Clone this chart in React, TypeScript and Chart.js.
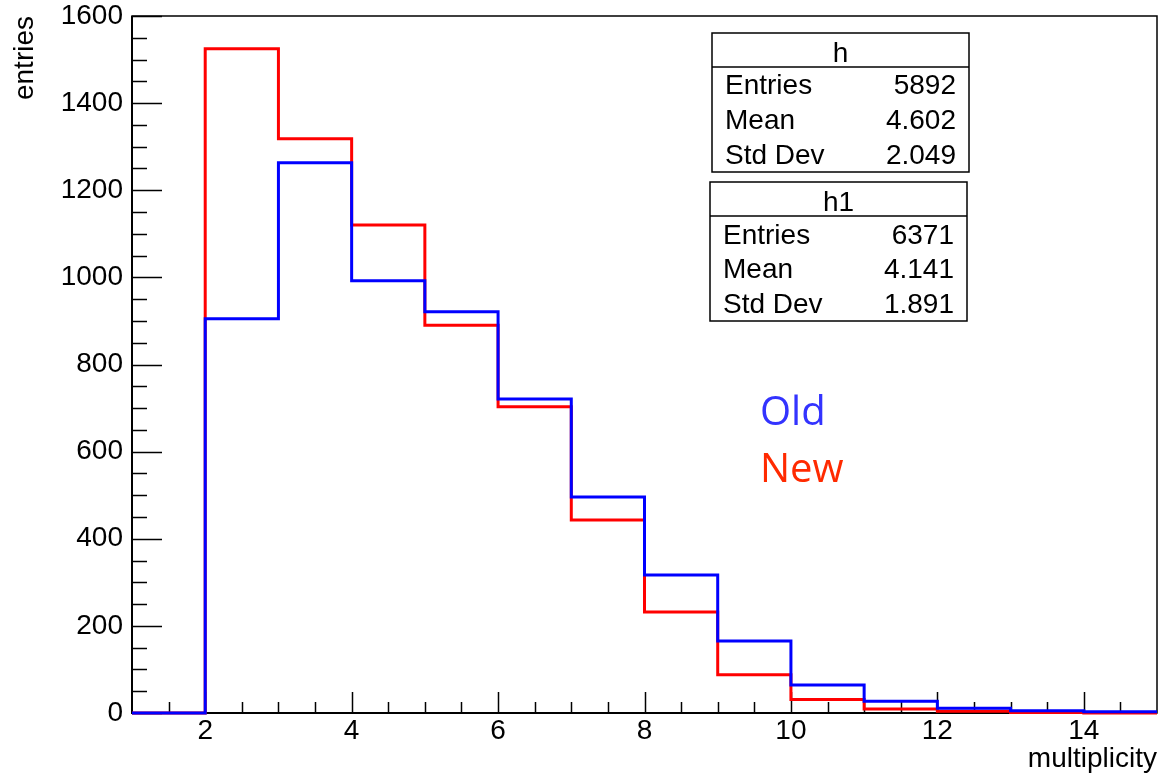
import React, { useEffect, useRef } from 'react';
import { Chart, registerables } from 'chart.js';

Chart.register(...registerables);

// ---- data ----
const binEdges = [1, 2, 3, 4, 5, 6, 7, 8, 9, 10, 11, 12, 13, 14, 15];
const oldCounts = [0, 905, 1263, 992, 921, 721, 496, 317, 165, 64, 27, 11, 5, 3];
const newCounts = [0, 1525, 1318, 1120, 890, 703, 443, 232, 88, 31, 9, 4, 1, 0];
const xTickValues = [2, 4, 6, 8, 10, 12, 14];
const yTickValues = [0, 200, 400, 600, 800, 1000, 1200, 1400, 1600];
const statLabels = ['Entries', 'Mean', 'Std Dev'];
const statsH = ['5892', '4.602', '2.049'];
const statsH1 = ['6371', '4.141', '1.891'];
const legendLabels = ['Old', 'New'];

const FONT = '"Liberation Sans", Arial, Helvetica, sans-serif';

function stepPoints(counts: number[]) {
  const pts = counts.map((c, i) => ({ x: binEdges[i], y: c }));
  pts.push({ x: binEdges[binEdges.length - 1], y: counts[counts.length - 1] });
  return pts;
}

const framePlugin = {
  id: 'rootFrame',
  beforeDatasetsDraw(chart: any) {
    const { ctx, chartArea: a, scales } = chart;
    const xs = scales.x;
    const ys = scales.y;
    ctx.save();
    ctx.strokeStyle = '#000';
    ctx.lineWidth = 1.5;
    ctx.strokeRect(a.left, a.top, a.right - a.left, a.bottom - a.top);
    ctx.lineWidth = 2;
    ctx.beginPath();
    ctx.moveTo(a.left, a.top);
    ctx.lineTo(a.left, a.bottom);
    ctx.lineTo(a.right, a.bottom);
    ctx.stroke();
    ctx.lineWidth = 1.5;
    ctx.beginPath();
    for (let v = 0; v <= 1600; v += 50) {
      const y = Math.round(ys.getPixelForValue(v)) + 0.5;
      const len = v % 200 === 0 ? 30 : 15;
      ctx.moveTo(a.left, y);
      ctx.lineTo(a.left + len, y);
    }
    for (let v = 1.5; v < 15; v += 0.5) {
      const x = Math.round(xs.getPixelForValue(v)) + 0.5;
      const len = v % 2 === 0 ? 21 : 11;
      ctx.moveTo(x, a.bottom);
      ctx.lineTo(x, a.bottom - len);
    }
    ctx.stroke();
    ctx.restore();
  },
  afterDraw(chart: any) {
    const { ctx } = chart;
    ctx.save();
    const drawBox = (
      left: number, top: number, right: number, bottom: number, header: number,
      title: string, titleBase: number, values: string[], bases: number[]
    ) => {
      ctx.fillStyle = '#fff';
      ctx.fillRect(left, top, right - left, bottom - top);
      ctx.strokeStyle = '#000';
      ctx.lineWidth = 1.5;
      ctx.strokeRect(left, top, right - left, bottom - top);
      ctx.beginPath();
      ctx.moveTo(left, header);
      ctx.lineTo(right, header);
      ctx.stroke();
      ctx.fillStyle = '#000';
      ctx.font = `28px ${FONT}`;
      ctx.textBaseline = 'alphabetic';
      ctx.textAlign = 'center';
      ctx.fillText(title, (left + right) / 2, titleBase);
      statLabels.forEach((lab, i) => {
        ctx.textAlign = 'left';
        ctx.fillText(lab, left + 13, bases[i]);
        ctx.textAlign = 'right';
        ctx.fillText(values[i], right - 13, bases[i]);
      });
    };
    drawBox(712, 33, 969, 172, 67, 'h', 62, statsH, [94, 129, 164]);
    drawBox(710, 182, 967, 321, 216, 'h1', 211, statsH1, [244, 278, 313]);

    ctx.font = `40px "Open Sans", "Noto Sans", sans-serif`;
    ctx.textAlign = 'left';
    ctx.fillStyle = '#3333ff';
    ctx.fillText(legendLabels[0], 760, 425);
    ctx.fillStyle = '#ff2a00';
    ctx.fillText(legendLabels[1], 760, 482);
    ctx.restore();
  },
};

export default function App() {
  const canvasRef = useRef<HTMLCanvasElement | null>(null);

  useEffect(() => {
    if (!canvasRef.current) return;
    const chart = new Chart(canvasRef.current, {
      type: 'line',
      data: {
        datasets: [
          {
            label: 'h',
            data: stepPoints(oldCounts),
            borderColor: '#0000ff',
            borderWidth: 3,
            stepped: 'before',
            pointRadius: 0,
            fill: false,
            clip: 6,
          },
          {
            label: 'h1',
            data: stepPoints(newCounts),
            borderColor: '#ff0000',
            borderWidth: 3,
            stepped: 'before',
            pointRadius: 0,
            fill: false,
            clip: 6,
          },
        ],
      },
      options: {
        animation: false,
        responsive: true,
        maintainAspectRatio: false,
        layout: { padding: { left: 0, right: 3, top: 16, bottom: 0 } },
        plugins: {
          legend: { display: false },
          tooltip: { enabled: false },
        },
        scales: {
          x: {
            type: 'linear',
            min: 1,
            max: 15,
            grid: { display: false, drawTicks: false },
            border: { display: false },
            afterBuildTicks: (s: any) => {
              s.ticks = xTickValues.map((v) => ({ value: v }));
            },
            afterFit: (s: any) => {
              s.height = 64;
              s.paddingLeft = 0;
              s.paddingRight = 0;
            },
            ticks: {
              color: '#000',
              padding: 1,
              maxRotation: 0,
              autoSkip: false,
              callback: (v: any) => String(v),
              font: { family: FONT, size: 28 },
            },
            title: {
              display: true,
              text: 'multiplicity',
              align: 'end',
              color: '#000',
              padding: { top: 0, bottom: 1 },
              font: { family: FONT, size: 28 },
            },
          },
          y: {
            type: 'linear',
            min: 0,
            max: 1600,
            grid: { display: false, drawTicks: false },
            border: { display: false },
            afterBuildTicks: (s: any) => {
              s.ticks = yTickValues.map((v) => ({ value: v }));
            },
            afterFit: (s: any) => {
              s.width = 132;
              s.paddingTop = 0;
              s.paddingBottom = 0;
            },
            ticks: {
              color: '#000',
              padding: 9,
              autoSkip: false,
              callback: (v: any) => String(v),
              font: { family: FONT, size: 28 },
            },
            title: {
              display: true,
              text: 'entries',
              align: 'end',
              color: '#000',
              padding: { top: 8, bottom: 0 },
              font: { family: FONT, size: 28 },
            },
          },
        },
      },
      plugins: [framePlugin],
    });
    return () => chart.destroy();
  }, []);

  return (
    <div style={{ position: 'fixed', left: 0, top: 0, width: 1160, height: 777, background: '#fff' }}>
      <canvas ref={canvasRef} />
    </div>
  );
}
